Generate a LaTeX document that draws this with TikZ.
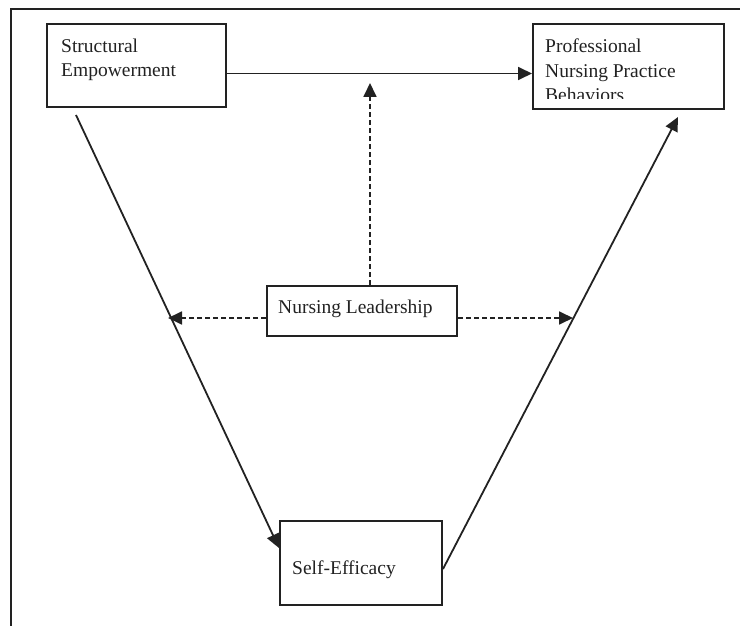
\documentclass[tikz,border=0pt]{standalone}
\usepackage{fontspec}
\setmainfont{Liberation Serif}
\usetikzlibrary{arrows.meta}
\definecolor{ink}{HTML}{222222}
\tikzset{
  boxnode/.style={draw=ink, line width=2pt, inner sep=0pt, anchor=north west},
  textnode/.style={inner sep=0pt, anchor=base west, align=left, text=ink,
    font=\fontsize{19.5}{24.5}\selectfont},
  solidarr/.style={draw=ink, line width=1.8pt, -{Triangle[length=14pt,width=13pt]}},
  dasharr/.style={solidarr, dash pattern=on 5pt off 3pt}
}
\begin{document}
\begin{tikzpicture}[x=1pt,y=-1pt]
	\useasboundingbox (0,0) rectangle (740,626);
	% frame
	\draw[ink, line width=2.5pt] (11,626) -- (11,9) -- (740,9);
	% boxes
	\node[boxnode, minimum width=179pt, minimum height=83pt] (se) at (46,23) {};
	\node[boxnode, minimum width=191pt, minimum height=85pt] (pnpb) at (532,23) {};
	\node[boxnode, minimum width=190pt, minimum height=50pt] (nl) at (266,285) {};
	\node[boxnode, minimum width=162pt, minimum height=84pt] (sef) at (279,520) {};
	% texts (base = last line)
	\node[textnode] (seT) at ([shift={(15,54)}]se.north west) {Structural\\Empowerment};
	\begin{scope}
	   \clip (pnpb.north west) rectangle ([yshift=11pt]pnpb.south east);
	   \node[textnode] (pnpbT) at ([shift={(13,79)}]pnpb.north west) {Professional\\Nursing Practice\\Behaviors};
	\end{scope}
	\node[textnode] (nlT) at ([shift={(12,28)}]nl.north west) {Nursing Leadership};
	\node[textnode] (sefT) at ([shift={(13,54)}]sef.north west) {Self-Efficacy};
	% arrow ends
	\coordinate (uptip) at (370,83);
	\coordinate (lefttip) at (168,318);
	\coordinate (righttip) at (573,318);
	\coordinate (leftstart) at (76,115);
	\coordinate (rightend) at (678,117);
	% connectors
	\draw[solidarr] ([yshift=-8pt]se.east) -- ([yshift=-8pt]se.east -| pnpb.west);
	\draw[solidarr] (leftstart) -- ([yshift=15pt]sef.west);
	\draw[solidarr] ([yshift=-6pt]sef.east) -- (rightend);
	\draw[dasharr] (nl.north -| uptip) -- (uptip);
	\draw[dasharr] (nl.west |- lefttip) -- (lefttip);
	\draw[dasharr] (nl.east |- righttip) -- (righttip);
\end{tikzpicture}
\end{document}
